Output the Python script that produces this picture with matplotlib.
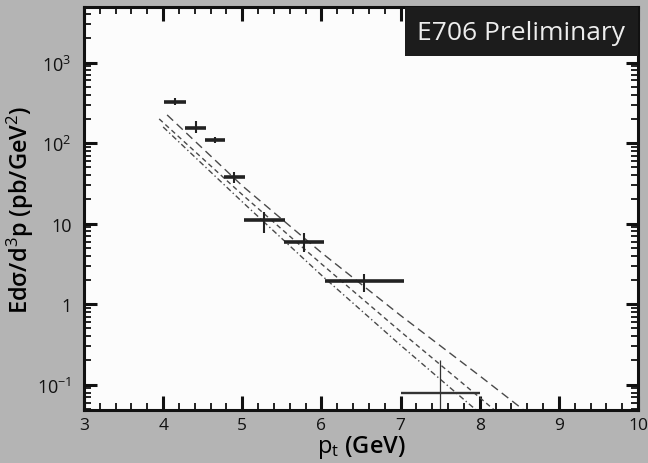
import numpy as np
import matplotlib.pyplot as plt
from matplotlib.ticker import MultipleLocator, LogLocator, FuncFormatter, NullFormatter
from matplotlib.patches import Rectangle

plt.rcParams['font.family'] = ['Open Sans', 'DejaVu Sans']
plt.rcParams['mathtext.fontset'] = 'custom'
plt.rcParams['mathtext.rm'] = 'Open Sans'
plt.rcParams['mathtext.it'] = 'Open Sans:italic'
plt.rcParams['mathtext.bf'] = 'Open Sans:bold'
plt.rcParams['mathtext.default'] = 'rm'

# datos E706
pt = [4.15, 4.41, 4.66, 4.90, 5.28, 5.78, 6.54, 7.50]
pt_err = [0.14, 0.13, 0.125, 0.135, 0.255, 0.25, 0.50, 0.50]
sigma = [327, 153, 110, 37.7, 11.0, 6.0, 1.92, 0.080]
sigma_lo = [295, 135, 99, 31.6, 7.7, 4.5, 1.41, 0.001]
sigma_hi = [360, 186, 120, 43.7, 14.0, 7.7, 2.37, 0.20]

# curvas teoricas (log10 de la seccion eficaz)
x_up = [4.05, 5.0, 6.0, 7.0, 8.0, 8.55]
y_up = [2.35, 1.47, 0.64, -0.14, -0.89, -1.31]
x_mid = [3.95, 5.0, 6.0, 7.0, 8.0, 8.18]
y_mid = [2.30, 1.36, 0.50, -0.34, -1.16, -1.31]
x_low = [4.0, 5.0, 6.0, 7.0, 7.95]
y_low = [2.20, 1.27, 0.36, -0.51, -1.31]

ylabels = {1000: '$10^3$', 100: '$10^2$', 10: '10', 1: '1', 0.1: '$10^{-1}$'}

fig = plt.figure(figsize=(6.48, 4.64), dpi=100, facecolor='#b4b4b4')
ax = fig.add_axes([0.1296, 0.1149, 0.8550, 0.8679])
ax.set_facecolor('#fcfcfc')

gris = '#4a4a4a'
ax.plot(x_up, 10 ** np.array(y_up), color=gris, lw=1.0, dashes=(6, 3.5))
ax.plot(x_mid, 10 ** np.array(y_mid), color=gris, lw=1.0, dashes=(3.5, 2.5))
ax.plot(x_low, 10 ** np.array(y_low), color=gris, lw=1.0, dashes=(4, 2, 1, 2))

s = np.array(sigma)
ylo = s - np.array(sigma_lo)
yhi = np.array(sigma_hi) - s
n = 7
ax.errorbar(pt[:n], sigma[:n], xerr=pt_err[:n], fmt='none', ecolor='#222222', elinewidth=2.6, capsize=0)
ax.errorbar(pt[:n], sigma[:n], yerr=[ylo[:n], yhi[:n]], fmt='none', ecolor='#222222', elinewidth=1.5, capsize=0)
ax.errorbar(pt[n:], sigma[n:], xerr=pt_err[n:], fmt='none', ecolor='#333333', elinewidth=1.7, capsize=0)
ax.errorbar(pt[n:], sigma[n:], yerr=[ylo[n:], yhi[n:]], fmt='none', ecolor='#333333', elinewidth=0.9, capsize=0)

ax.set_yscale('log')
ax.set_xlim(3, 10)
ax.set_ylim(10 ** -1.31, 10 ** 3.69)

ax.xaxis.set_major_locator(MultipleLocator(1))
ax.xaxis.set_minor_locator(MultipleLocator(0.2))
ax.yaxis.set_major_locator(LogLocator(base=10))
ax.yaxis.set_minor_locator(LogLocator(base=10, subs=np.arange(2, 10)))
ax.yaxis.set_major_formatter(FuncFormatter(lambda v, p: ylabels.get(round(v, 3), '')))
ax.yaxis.set_minor_formatter(NullFormatter())

ax.tick_params(which='both', direction='in', top=True, right=True, colors='#111111')
ax.tick_params(axis='x', which='major', length=10, width=2.2, pad=5, labelsize=12.5)
ax.tick_params(axis='x', which='minor', length=5, width=1.3)
ax.tick_params(axis='y', which='major', length=9, width=2.2, pad=9, labelsize=13)
ax.tick_params(axis='y', which='minor', length=5, width=1.3)
for sp in ax.spines.values():
    sp.set_linewidth(2.2)
    sp.set_color('#111111')

ax.set_xlabel('$p_t$ (GeV)', fontsize=17, fontweight='semibold', labelpad=0)
ax.set_ylabel('Ed\u03c3/d$^3$p (pb/GeV$^2$)', fontsize=17, fontweight='semibold', labelpad=1)

ax.add_patch(Rectangle((0.579, 0.878), 0.421, 0.122, transform=ax.transAxes,
                       facecolor='#1c1c1c', edgecolor='none', zorder=5, clip_on=False))
ax.text(0.7895, 0.937, 'E706 Preliminary', transform=ax.transAxes, color='#ededed',
        fontsize=19, ha='center', va='center', zorder=6)

plt.savefig('out.png', dpi=100, facecolor=fig.get_facecolor())
plt.close()
